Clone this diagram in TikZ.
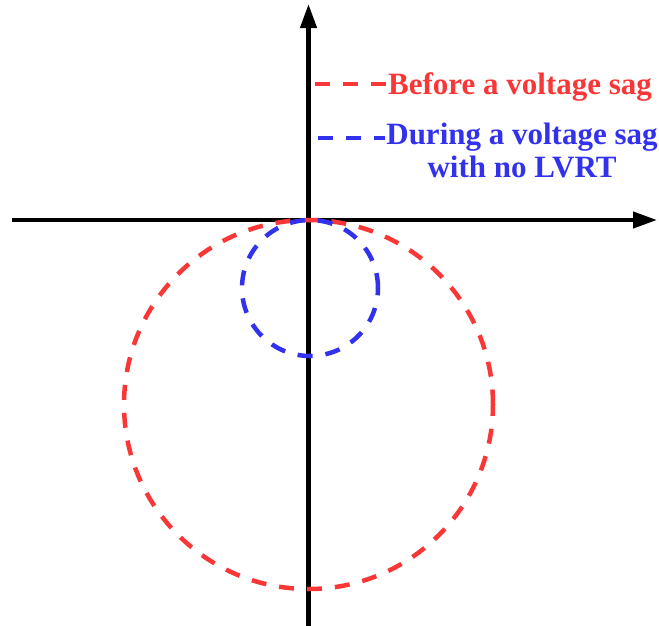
\documentclass[tikz,border=0pt]{standalone}
\usepackage{fontspec}
\setmainfont{Liberation Serif}
\usetikzlibrary{arrows.meta}
\definecolor{myred}{RGB}{250,55,55}
\definecolor{myblue}{RGB}{50,50,238}
\begin{document}
\begin{tikzpicture}[x=1pt,y=-1pt,
  axis/.style={line width=4.2pt,-{Triangle[length=24pt,width=16pt]}},
  dashline/.style={line width=4.5pt,dash pattern=on 15pt off 13pt},
  legtext/.style={inner sep=0pt,font=\fontsize{31}{33}\selectfont\bfseries}]
\useasboundingbox (0,0) rectangle (659,625);
% axes
\coordinate (xs) at (12,220);
\coordinate (xe) at (657,220);
\coordinate (ys) at (308.5,626);
\coordinate (ye) at (308.5,4);
\draw[axis] (xs) -- (xe);
\draw[axis] (ys) -- (ye);
% circles
\coordinate (rc) at (308.5,404.5);
\coordinate (bc) at (310,288);
\draw[dashline,myred] (rc) circle[radius=184.5pt];
\draw[dashline,myblue] (bc) circle[radius=68pt];
% legend
\coordinate (r1) at (315,84);
\coordinate (r2) at (387,84);
\coordinate (b1) at (318,138);
\coordinate (b2) at (385,138);
\draw[dashline,myred] (r1) -- (r2);
\draw[dashline,myblue] (b1) -- (b2);
\node[legtext,text=myred,anchor=base west] (lred) at (388,94) {Before a voltage sag};
\node[legtext,text=myblue,anchor=north,align=center] (lblue) at (522,123) {During a voltage sag\\with no LVRT};
\end{tikzpicture}
\end{document}
